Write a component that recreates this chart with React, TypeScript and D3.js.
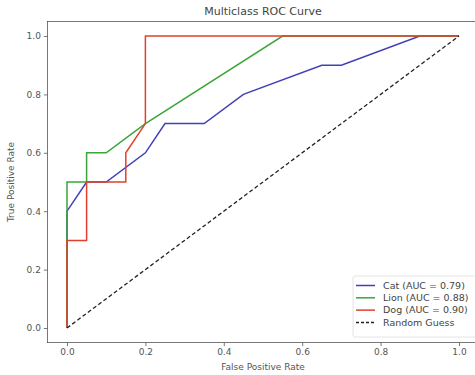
import React, { useEffect, useRef } from 'react';
import * as d3 from 'd3';

// ROC points: [fpr, tpr]
const catFpr = [0, 0, 0.05, 0.1, 0.2, 0.25, 0.35, 0.45, 0.65, 0.7, 0.9, 1];
const catTpr = [0, 0.4, 0.5, 0.5, 0.6, 0.7, 0.7, 0.8, 0.9, 0.9, 1, 1];
const lionFpr = [0, 0, 0.05, 0.05, 0.1, 0.2, 0.55, 1];
const lionTpr = [0, 0.5, 0.5, 0.6, 0.6, 0.7, 1, 1];
const dogFpr = [0, 0, 0.05, 0.05, 0.15, 0.15, 0.2, 0.2, 1];
const dogTpr = [0, 0.3, 0.3, 0.5, 0.5, 0.6, 0.7, 1, 1];

const classes = ['Cat', 'Lion', 'Dog'];
const aucs = ['0.79', '0.88', '0.90'];
const colors = ['#4040b8', '#3aa63a', '#e0402c'];
const ticks = [0, 0.2, 0.4, 0.6, 0.8, 1.0];

const App = () => {
  const width = 475,
    height = 375,
    margin = { left: 47.4, top: 21.4, bottom: 32.4, right: -3.6 };

  const svgRef = useRef<SVGSVGElement>(null);

  useEffect(() => {
    const svg = d3.select(svgRef.current);
    svg.selectAll('*').remove();

    const x = d3.scaleLinear()
      .domain([-0.05, 1.05])
      .range([margin.left, width - margin.right]);
    const y = d3.scaleLinear()
      .domain([-0.05, 1.05])
      .range([height - margin.bottom, margin.top]);

    const series = [
      { fpr: catFpr, tpr: catTpr },
      { fpr: lionFpr, tpr: lionTpr },
      { fpr: dogFpr, tpr: dogTpr },
    ];

    const line = d3.line<[number, number]>()
      .x(d => x(d[0]))
      .y(d => y(d[1]));

    svg.append('rect')
      .attr('width', width)
      .attr('height', height)
      .attr('fill', 'white');

    // curves
    series.forEach((s, i) => {
      svg.append('path')
        .datum(s.fpr.map((f, j) => [f, s.tpr[j]] as [number, number]))
        .attr('fill', 'none')
        .attr('stroke', colors[i])
        .attr('stroke-width', 1.5)
        .attr('d', line);
    });

    svg.append('path')
      .datum([[0, 0], [1, 1]] as [number, number][])
      .attr('fill', 'none')
      .attr('stroke', '#222')
      .attr('stroke-width', 1.3)
      .attr('stroke-dasharray', '4,2.5')
      .attr('d', line);

    // axes
    const xAxis = svg.append('g')
      .attr('transform', `translate(0,${height - margin.bottom})`)
      .call(d3.axisBottom(x).tickValues(ticks).tickFormat(d3.format('.1f')).tickSize(3.5).tickPadding(3));
    const yAxis = svg.append('g')
      .attr('transform', `translate(${margin.left},0)`)
      .call(d3.axisLeft(y).tickValues(ticks).tickFormat(d3.format('.1f')).tickSize(3.5).tickPadding(3));

    [xAxis, yAxis].forEach(g => {
      g.select('.domain').remove();
      g.selectAll('line').attr('stroke', '#555').attr('stroke-width', 0.8);
      g.selectAll('text')
        .attr('fill', '#555')
        .attr('font-family', 'DejaVu Sans')
        .attr('font-size', 9);
    });

    // frame
    svg.append('rect')
      .attr('x', margin.left)
      .attr('y', margin.top)
      .attr('width', width - margin.right - margin.left)
      .attr('height', height - margin.bottom - margin.top)
      .attr('fill', 'none')
      .attr('stroke', '#555')
      .attr('stroke-width', 0.8);

    // labels
    svg.append('text')
      .attr('x', (margin.left + width - margin.right) / 2)
      .attr('y', 15)
      .attr('text-anchor', 'middle')
      .attr('font-family', 'DejaVu Sans')
      .attr('font-size', 11)
      .attr('fill', '#444')
      .text('Multiclass ROC Curve');

    svg.append('text')
      .attr('x', (margin.left + width - margin.right) / 2)
      .attr('y', 370)
      .attr('text-anchor', 'middle')
      .attr('font-family', 'DejaVu Sans')
      .attr('font-size', 9)
      .attr('fill', '#555')
      .text('False Positive Rate');

    svg.append('text')
      .attr('transform', `translate(14,${(margin.top + height - margin.bottom) / 2}) rotate(-90)`)
      .attr('text-anchor', 'middle')
      .attr('font-family', 'DejaVu Sans')
      .attr('font-size', 9)
      .attr('fill', '#555')
      .text('True Positive Rate');

    // legend
    const legendItems = [
      ...classes.map((c, i) => ({ label: `${c} (AUC = ${aucs[i]})`, color: colors[i], dash: null as string | null })),
      { label: 'Random Guess', color: '#222', dash: '3,2' },
    ];
    const lg = svg.append('g').attr('transform', 'translate(353,276)');
    lg.append('rect')
      .attr('width', 130)
      .attr('height', 61)
      .attr('rx', 2)
      .attr('fill', 'white')
      .attr('fill-opacity', 0.8)
      .attr('stroke', '#ddd')
      .attr('stroke-width', 0.8);
    legendItems.forEach((d, i) => {
      const row = lg.append('g').attr('transform', `translate(0,${9.5 + i * 12.3})`);
      row.append('line')
        .attr('x1', 3)
        .attr('x2', 22)
        .attr('stroke', d.color)
        .attr('stroke-width', 1.5)
        .attr('stroke-dasharray', d.dash);
      row.append('text')
        .attr('x', 30)
        .attr('dy', '0.35em')
        .attr('font-family', 'DejaVu Sans')
        .attr('font-size', 9.5)
        .attr('fill', '#444')
        .text(d.label);
    });
  }, []);

  return (
    <svg ref={svgRef} width={width} height={height}
      style={{ position: 'absolute', left: 0, top: 0 }}></svg>
  );
};

export default App;
